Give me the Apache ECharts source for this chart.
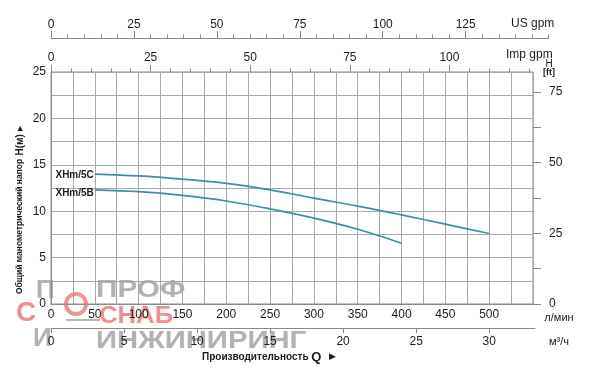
<!DOCTYPE html>
<html><head><meta charset="utf-8">
<script src="https://cdn.jsdelivr.net/npm/echarts@6/dist/echarts.min.js"></script>
<style>html,body{margin:0;padding:0;background:#fff}#c{width:600px;height:372px}</style>
</head><body><div id="c"></div>
<script>
// ---- data ----
const flowXHm5C = [50, 100, 150, 200, 250, 300, 350, 400, 450, 500];          // л/мин
const headXHm5C = [14.0, 13.8, 13.45, 13.0, 12.3, 11.4, 10.55, 9.6, 8.6, 7.6]; // м
const flowXHm5B = [50, 100, 150, 200, 250, 300, 350, 400];
const headXHm5B = [12.3, 12.1, 11.7, 11.1, 10.25, 9.25, 8.05, 6.55];
const seriesNames = ['XHm/5C', 'XHm/5B'];

const lminLabels = [0, 50, 100, 150, 200, 250, 300, 350, 400, 450, 500];
const m3hLabels = [0, 5, 10, 15, 20, 25, 30];
const usGpmLabels = [0, 25, 50, 75, 100, 125];
const impGpmLabels = [0, 25, 50, 75, 100];
const headMLabels = [0, 5, 10, 15, 20, 25];
const headFtLabels = [0, 25, 50, 75];

const X_MAX = 550, Y_MAX = 25;
const LMIN_PER_USG = 3.78541, LMIN_PER_IMPG = 4.54609, FT_PER_M = 3.28084;

// ---- styling ----
const FONT = '"Liberation Sans", Arial, sans-serif';
const AX = '#8a8a8a', GRIDC = '#a8a8a8', TXT = '#1c1c1c', CURVE = '#3f8ea4';
const lbl = (extra) => Object.assign({ color: TXT, fontSize: 12, fontFamily: FONT }, extra || {});

const GL = 51, GT = 72, GW = 482, GH = 232;
const PX_PER_LMIN = GW / X_MAX;
const wLmin = (lmin) => lmin * PX_PER_LMIN;
const ftTop = GT + GH * (1 - 75 / (Y_MAX * FT_PER_M));

const hiddenX = (g) => ({ gridIndex: g, type: 'value', show: false, min: 0, max: 1 });
const hiddenY = (g) => ({ gridIndex: g, type: 'value', show: false, min: 0, max: 1 });
const noLbl = { show: false }, noSplit = { show: false };
const noLine = { show: false, onZero: false };
const line = { show: true, onZero: false, lineStyle: { color: AX } };
const tick = (len) => ({ show: true, length: len, lineStyle: { color: AX } });

const chart = echarts.init(document.getElementById('c'), null, { renderer: 'canvas' });
chart.setOption({
  animation: false,
  backgroundColor: '#ffffff',
  grid: [
    { left: GL, top: GT, width: GW, height: GH, show: true, borderColor: AX, borderWidth: 1 }, // 0 main
    { left: GL, top: GT, width: wLmin(120 * LMIN_PER_IMPG), height: GH },                    // 1 Imp minor
    { left: GL, top: GT, width: wLmin(100 * LMIN_PER_IMPG), height: GH },                    // 2 Imp major
    { left: GL, top: ftTop, width: GW, height: GT + GH - ftTop },                            // 3 ft
    { left: GL, top: 318, width: wLmin(30 * 1000 / 60), height: 10 },                        // 4 m3/h ticks
    { left: GL, top: 38, width: wLmin(150 * LMIN_PER_USG), height: 10 },                     // 5 US minor + line
    { left: GL, top: 38, width: wLmin(125 * LMIN_PER_USG), height: 10 },                     // 6 US major
    { left: GL, top: 318, width: 484, height: 10 }                                          // 7 m3/h line
  ],
  xAxis: [
    { // grid0: л/мин
      gridIndex: 0, type: 'value', position: 'bottom', min: 0, max: X_MAX, interval: 25,
      axisLine: line, axisTick: { show: false },
      axisLabel: lbl({ customValues: lminLabels, margin: 5 }),
      splitLine: { show: true, lineStyle: { color: GRIDC, width: 1 } }
    },
    { gridIndex: 1, type: 'value', position: 'top', min: 0, max: 120, interval: 5,
      axisLine: noLine, axisTick: tick(3.5), axisLabel: noLbl, splitLine: noSplit },
    { gridIndex: 2, type: 'value', position: 'top', min: 0, max: 100, interval: 25,
      axisLine: noLine, axisTick: tick(7),
      axisLabel: lbl({ customValues: impGpmLabels, margin: 8 }), splitLine: noSplit },
    hiddenX(3),
    { gridIndex: 4, type: 'value', position: 'bottom', min: 0, max: 30, interval: 5,
      axisLine: noLine, axisTick: tick(5),
      axisLabel: lbl({ customValues: m3hLabels, margin: 8 }), splitLine: noSplit },
    { gridIndex: 5, type: 'value', position: 'top', min: 0, max: 150, interval: 5,
      axisLine: line, axisTick: tick(3.5), axisLabel: noLbl, splitLine: noSplit },
    { gridIndex: 6, type: 'value', position: 'top', min: 0, max: 125, interval: 25,
      axisLine: noLine, axisTick: tick(7),
      axisLabel: lbl({ customValues: usGpmLabels, margin: 7 }), splitLine: noSplit },
    { gridIndex: 7, type: 'value', position: 'bottom', min: 0, max: 1,
      axisLine: line, axisTick: { show: false }, axisLabel: noLbl, splitLine: noSplit }
  ],
  yAxis: [
    { // grid0: м
      gridIndex: 0, type: 'value', position: 'left', min: 0, max: Y_MAX, interval: 2.5,
      axisLine: line, axisTick: { show: false },
      axisLabel: lbl({ customValues: headMLabels, margin: 5 }),
      splitLine: { show: true, lineStyle: { color: GRIDC, width: 1 } }
    },
    hiddenY(1), hiddenY(2),
    { // grid3: ft
      gridIndex: 3, type: 'value', position: 'right', min: 0, max: 75, interval: 12.5,
      axisLine: noLine, axisTick: tick(8),
      axisLabel: lbl({ customValues: headFtLabels, margin: 16 }), splitLine: noSplit
    },
    hiddenY(4), hiddenY(5), hiddenY(6), hiddenY(7)
  ],
  series: [
    {
      name: seriesNames[0], type: 'line', xAxisIndex: 0, yAxisIndex: 0, smooth: 0.35,
      symbol: 'none', lineStyle: { color: CURVE, width: 1.7 },
      data: flowXHm5C.map((q, i) => [q, headXHm5C[i]])
    },
    {
      name: seriesNames[1], type: 'line', xAxisIndex: 0, yAxisIndex: 0, smooth: 0.35,
      symbol: 'none', lineStyle: { color: CURVE, width: 1.7 },
      data: flowXHm5B.map((q, i) => [q, headXHm5B[i]])
    }
  ]
});

// ---- texts ----
const p5C = chart.convertToPixel({ seriesIndex: 0 }, [flowXHm5C[0], headXHm5C[0]]);
const p5B = chart.convertToPixel({ seriesIndex: 1 }, [flowXHm5B[0], headXHm5B[0]]);
const bold = (sz) => 'bold ' + sz + 'px ' + FONT;
const WM_GRAY = '#a4a4a4', WM_RED = '#ec7b7b';

chart.setOption({
  graphic: [
    { type: 'text', x: p5C[0] - 1, y: p5C[1] + 1, style: { text: seriesNames[0], font: bold(10), fill: TXT, align: 'right', verticalAlign: 'middle' } },
    { type: 'text', x: p5B[0] - 1, y: p5B[1] + 3, style: { text: seriesNames[1], font: bold(10), fill: TXT, align: 'right', verticalAlign: 'middle' } },
    { type: 'text', x: 511, y: 24, style: { text: 'US gpm', font: '12px ' + FONT, fill: TXT, align: 'left', verticalAlign: 'middle' } },
    { type: 'text', x: 506, y: 55, style: { text: 'Imp gpm', font: '12px ' + FONT, fill: TXT, align: 'left', verticalAlign: 'middle' } },
    { type: 'text', x: 549, y: 64, style: { text: 'H', font: '10px ' + FONT, fill: TXT, align: 'center', verticalAlign: 'middle' } },
    { type: 'text', x: 549, y: 73, style: { text: '[ft]', font: bold(9), fill: TXT, align: 'center', verticalAlign: 'middle' } },
    { type: 'text', x: 559, y: 318, style: { text: 'л/мин', font: '11px ' + FONT, fill: TXT, align: 'center', verticalAlign: 'middle' } },
    { type: 'text', x: 559, y: 342, style: { text: 'м³/ч', font: '11px ' + FONT, fill: TXT, align: 'center', verticalAlign: 'middle' } },
    { type: 'text', x: 202, y: 357, style: {
        text: '{a|Производительность }{b|Q}{c|   ▶}', align: 'left', verticalAlign: 'middle',
        rich: { a: { font: bold(10), fill: TXT }, b: { font: bold(13), fill: TXT }, c: { font: '9px ' + FONT, fill: TXT } } } },
    { type: 'text', x: 20, y: 294, rotation: Math.PI / 2, style: {
        text: '{a|Общий манометрический напор} {b|H(м)} {c|▶}', align: 'left', verticalAlign: 'middle',
        rich: { a: { font: bold(8.5), fill: TXT }, b: { font: bold(10), fill: TXT }, c: { font: '7px ' + FONT, fill: TXT } } } },
    // watermark
    { type: 'group', z: 100, children: [
      { type: 'text', x: 96, y: 290, scaleX: 1.24, style: { text: 'ПРОФ', font: bold(24), fill: WM_GRAY, opacity: 0.85, align: 'left', verticalAlign: 'middle' } },
      { type: 'text', x: 99, y: 316, scaleX: 1.07, style: { text: 'СНАБ', font: bold(24), fill: WM_RED, opacity: 0.85, align: 'left', verticalAlign: 'middle' } },
      { type: 'text', x: 96, y: 341, scaleX: 1.22, style: { text: 'ИНЖИНИРИНГ', font: bold(24), fill: WM_GRAY, opacity: 0.85, align: 'left', verticalAlign: 'middle' } },
      { type: 'text', x: 36, y: 291, style: { text: 'П', font: bold(26), fill: WM_GRAY, opacity: 0.85, align: 'left', verticalAlign: 'middle' } },
      { type: 'text', x: 16, y: 313, style: { text: 'С', font: bold(28), fill: WM_RED, opacity: 0.85, align: 'left', verticalAlign: 'middle' } },
      { type: 'text', x: 33, y: 339, style: { text: 'И', font: bold(26), fill: WM_GRAY, opacity: 0.85, align: 'left', verticalAlign: 'middle' } },
      { type: 'circle', shape: { cx: 76, cy: 304, r: 10 }, style: { fill: 'none', stroke: WM_RED, lineWidth: 4, opacity: 0.8 } },
      { type: 'line', shape: { x1: 66, y1: 320, x2: 100, y2: 320 }, style: { stroke: WM_GRAY, lineWidth: 2, opacity: 0.8 } }
    ] }
  ]
});
</script></body></html>
